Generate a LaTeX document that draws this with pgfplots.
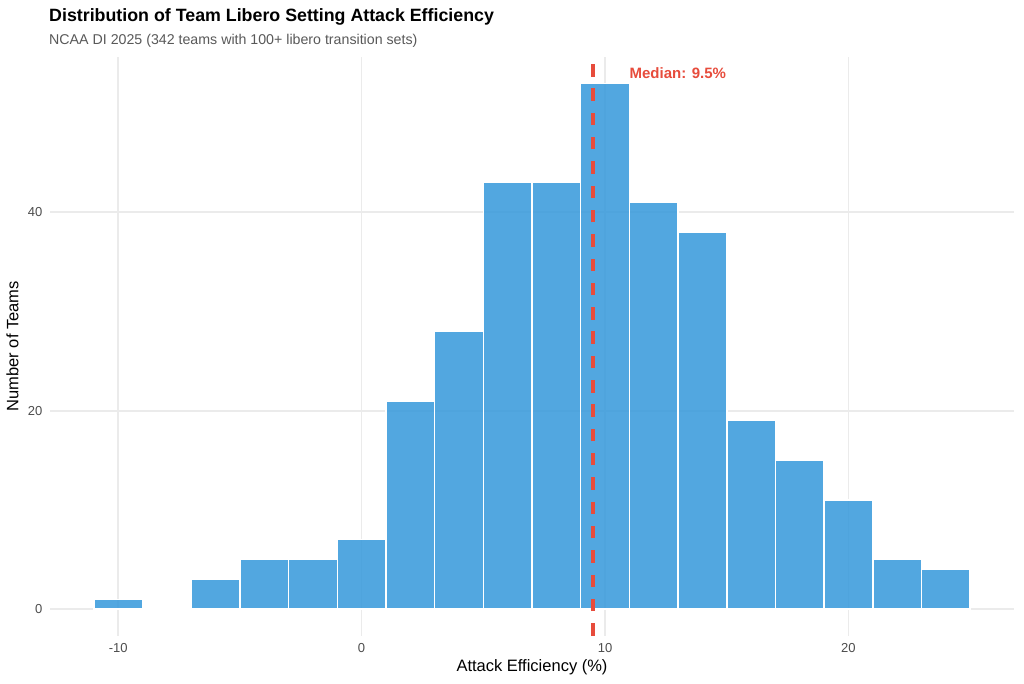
\documentclass[border=0pt]{standalone}
\usepackage{fontspec}
\setmainfont{Liberation Sans}
\usepackage{pgfplots}
\pgfplotsset{compat=1.18}
\definecolor{barblue}{HTML}{3498DB}
\definecolor{medred}{HTML}{E74C3C}
\definecolor{gridgray}{HTML}{EBEBEB}
\definecolor{ticklab}{HTML}{4D4D4D}
\definecolor{subgray}{HTML}{595959}
\begin{document}
\begin{tikzpicture}[x=1pt,y=1pt]
\fill[white] (0,0) rectangle (1024,683);
\path[use as bounding box] (0,0) rectangle (1024,683);
\begin{axis}[
  at={(50pt,47.5pt)}, anchor=south west,
  scale only axis, width=964pt, height=578.5pt,
  xmin=-12.8, xmax=26.8, ymin=-2.65, ymax=55.65,
  axis line style={draw=none},
  major tick length=0pt,
  xtick={-10,0,10,20}, ytick={0,20,40},
  xmajorgrids, ymajorgrids,
  grid style={draw=gridgray, line width=1.6pt},
  /pgf/number format/assume math mode=true,
  ticklabel style={font=\fontsize{13}{13}\selectfont, text=ticklab, inner sep=0pt},
  xticklabel style={anchor=base, yshift=-17pt},
  yticklabel style={anchor=east, xshift=-7.5pt},
  xlabel={Attack Efficiency (\%)},
  ylabel={Number of Teams},
  label style={font=\fontsize{16.5}{16.5}\selectfont, inner sep=0pt},
  xlabel style={at={(axis description cs:0.5,-0.0626)}, anchor=base},
  ylabel style={at={(axis description cs:-0.0329,0.5)}, anchor=base},
  title={Distribution of Team Libero Setting Attack Efficiency},
  every axis title/.style={at={(axis description cs:-0.001,1.0622)}, anchor=base west, font=\bfseries\fontsize{17.8}{17.8}\selectfont, inner sep=0pt},
  clip=false,
]
\addplot[ybar interval, fill=barblue, fill opacity=0.85, draw=white, line width=1.5pt] coordinates {
  (-11,1) (-9,0) (-7,3) (-5,5) (-3,5) (-1,7) (1,21) (3,28) (5,43) (7,43)
  (9,53) (11,41) (13,38) (15,19) (17,15) (19,11) (21,5) (23,4) (25,4)
};
\addplot[medred, line width=3.4pt, dash pattern=on 12.4pt off 11.9pt] coordinates {(9.5,-2.65) (9.5,55.65)};
\node[anchor=west, text=medred, font=\bfseries\fontsize{15}{15}\selectfont, inner sep=0pt] at (axis cs:11,54.06) {Median: 9.5\%};
\node[anchor=base west, text=subgray, font=\fontsize{14.2}{14.2}\selectfont, inner sep=0pt] at (axis description cs:-0.001,1.022) {NCAA DI 2025 (342 teams with 100+ libero transition sets)};
\end{axis}
\end{tikzpicture}
\end{document}
